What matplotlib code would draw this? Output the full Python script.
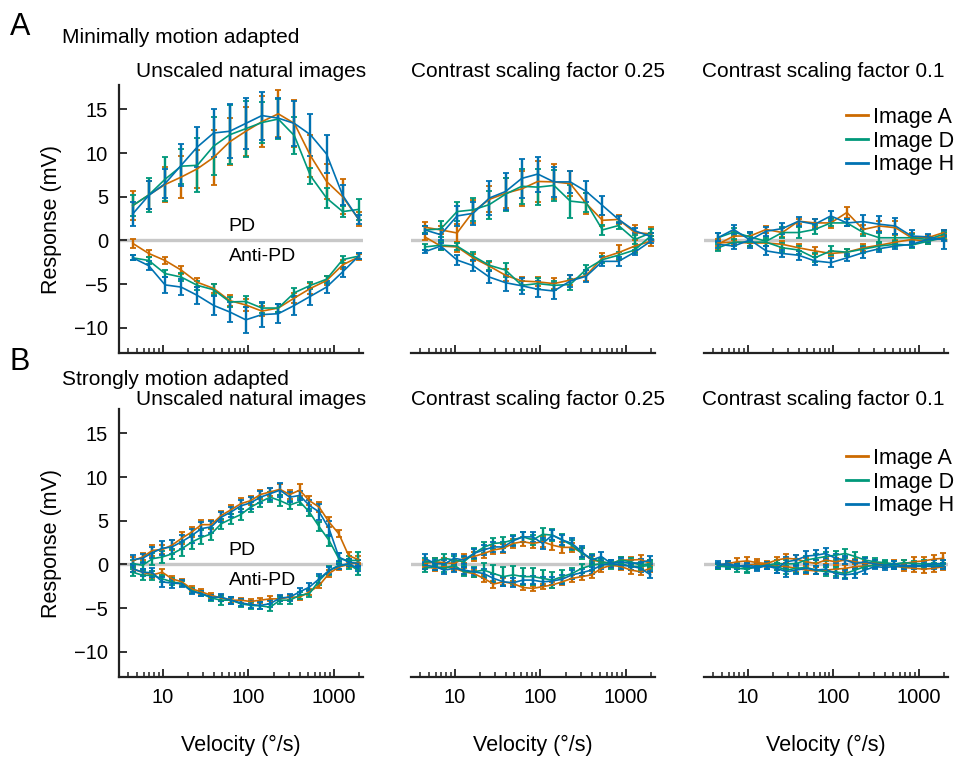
import matplotlib.pyplot as plt
from matplotlib.lines import Line2D
from matplotlib.ticker import FixedLocator, LogLocator, NullFormatter

plt.rcParams['font.family'] = ['Liberation Sans', 'DejaVu Sans']

# velocities (deg/s)
vel_a = [4.5, 6.9, 10.7, 16.5, 25.5, 39.5, 61, 94, 145, 225, 347, 535, 825, 1275, 1960]
vel_b = [4.5, 5.86, 7.63, 9.93, 12.9, 16.8, 21.9, 28.5, 37.2, 48.4, 63, 82, 107, 139,
         181, 236, 307, 400, 520, 678, 882, 1149, 1496, 1948]

images = ['A', 'D', 'H']
colors = {'A': '#cc6a00', 'D': '#00987a', 'H': '#0072b2'}

# ---- A: minimally motion adapted ----
a1_pd = {'A': [4.0, 5.2, 6.4, 7.25, 8.2, 9.5, 11.3, 12.5, 13.6, 14.5, 13.4, 9.7, 6.75, 5.0, 2.4],
         'D': [4.0, 5.2, 7.0, 8.5, 8.6, 10.8, 12.1, 12.8, 13.5, 13.9, 12.0, 7.4, 4.85, 3.3, 3.55],
         'H': [3.05, 5.15, 6.5, 8.6, 10.7, 12.3, 12.5, 13.4, 14.3, 14.0, 13.4, 12.1, 9.9, 5.15, 2.4]}
a1_pd_err = {'A': [1.7, 1.6, 2.0, 2.4, 2.2, 3.2, 2.7, 2.8, 2.9, 2.7, 2.7, 2.4, 2.0, 2.0, 0.8],
             'D': [1.25, 2.0, 2.5, 2.0, 3.1, 3.3, 3.4, 3.2, 2.4, 2.25, 2.1, 0.9, 1.1, 0.6, 1.2],
             'H': [1.4, 1.6, 1.7, 2.4, 2.3, 2.7, 3.1, 2.9, 2.75, 2.3, 2.6, 2.4, 2.2, 1.15, 0.5]}
a1_anti = {'A': [-0.35, -1.5, -2.3, -3.4, -4.8, -5.5, -6.9, -7.4, -8.1, -7.75, -6.6, -5.5, -4.6, -2.8, -1.9],
           'D': [-2.0, -2.3, -3.8, -4.2, -5.15, -5.65, -7.05, -7.0, -7.75, -7.75, -6.0, -5.15, -4.45, -2.2, -1.8],
           'H': [-2.0, -2.9, -5.1, -5.35, -6.3, -7.45, -8.2, -9.1, -8.5, -8.4, -7.45, -6.4, -5.35, -3.6, -1.8]}
a1_anti_err = {'A': [0.5, 0.4, 0.4, 0.5, 0.5, 0.5, 0.6, 0.7, 0.6, 0.5, 0.6, 0.6, 0.5, 0.5, 0.3],
               'D': [0.3, 0.4, 0.4, 0.5, 0.5, 0.6, 0.6, 0.6, 0.6, 0.5, 0.5, 0.4, 0.4, 0.4, 0.3],
               'H': [0.3, 0.5, 0.9, 0.9, 1.0, 1.1, 1.1, 1.5, 1.4, 1.1, 1.1, 1.0, 0.7, 0.6, 0.3]}

a2_pd = {'A': [1.5, 1.2, 0.85, 3.3, 4.7, 5.4, 5.9, 6.75, 6.7, 6.5, 4.2, 2.3, 2.4, 0.9, 0.75],
         'D': [1.2, 1.3, 3.3, 3.5, 4.1, 5.3, 6.2, 6.1, 6.3, 4.5, 4.3, 1.2, 1.7, 0.1, 0.85],
         'H': [1.2, 0.65, 2.8, 3.1, 4.85, 5.6, 7.1, 7.6, 6.7, 6.7, 5.6, 4.0, 2.4, 1.1, 0.45]}
a2_pd_err = {'A': [0.6, 0.5, 1.0, 1.3, 1.5, 1.7, 2.0, 2.3, 2.0, 1.4, 1.2, 0.6, 0.5, 0.9, 0.8],
             'D': [0.4, 0.9, 1.1, 1.3, 1.6, 1.9, 2.0, 2.1, 1.8, 1.9, 1.1, 0.6, 0.4, 0.5, 0.4],
             'H': [0.5, 0.6, 1.1, 1.3, 1.9, 2.1, 2.2, 2.0, 1.7, 1.3, 1.2, 1.1, 0.4, 0.3, 0.4]}
a2_anti = {'A': [0.4, -0.65, -0.75, -2.0, -2.95, -4.0, -4.65, -4.75, -4.95, -4.55, -4.0, -2.0, -1.4, -0.65, -0.1],
           'D': [-0.75, -0.55, -0.65, -1.8, -2.85, -3.4, -5.15, -4.95, -5.15, -5.05, -3.3, -2.2, -1.7, -1.1, 0.5],
           'H': [-1.3, -0.65, -2.25, -2.9, -4.2, -4.85, -5.2, -5.6, -5.8, -4.65, -4.1, -2.4, -2.4, -1.35, -0.1]}
a2_anti_err = {'A': [0.3, 0.5, 0.6, 0.4, 0.5, 0.7, 0.5, 0.5, 0.6, 0.6, 0.6, 0.5, 0.9, 0.7, 0.6],
               'D': [0.3, 0.5, 0.4, 0.5, 0.5, 0.8, 0.5, 0.6, 0.5, 0.6, 0.5, 0.4, 0.4, 0.3, 0.3],
               'H': [0.2, 0.3, 0.6, 0.6, 0.7, 0.9, 0.9, 0.9, 0.9, 0.7, 0.7, 0.5, 0.5, 0.3, 0.2]}

a3_pd = {'A': [-0.45, 0.5, 0.5, 1.25, 0.9, 2.2, 2.0, 2.0, 3.2, 1.25, 1.65, 1.45, 0.3, 0.3, 0.9],
         'D': [0.3, 0.95, 0.4, -0.1, 0.9, 0.9, 1.25, 2.0, 2.0, 0.9, 0.3, 0.3, 0.3, 0.1, 0.7],
         'H': [0.3, 1.25, 0.05, 1.05, 1.35, 2.2, 1.85, 2.8, 2.0, 2.15, 1.85, 1.65, 0.5, 0.4, 0.1]}
a3_pd_err = {'A': [0.6, 0.5, 0.5, 0.4, 0.5, 0.3, 0.5, 0.6, 0.6, 0.5, 0.6, 0.8, 0.5, 0.3, 0.3],
             'D': [0.5, 0.5, 0.5, 0.5, 0.6, 0.6, 0.5, 0.4, 0.4, 0.4, 0.5, 0.4, 0.4, 0.3, 0.3],
             'H': [0.5, 0.5, 0.9, 0.5, 0.6, 0.5, 0.6, 0.6, 0.4, 0.8, 0.9, 0.9, 0.7, 0.3, 1.1]}
a3_anti = {'A': [-0.3, -0.2, -0.3, -0.3, -0.45, -0.85, -1.2, -1.5, -1.35, -0.85, -0.55, -0.2, 0.1, -0.1, 0.5],
           'D': [-0.85, -0.2, -0.2, -0.2, -0.85, -1.1, -2.0, -1.2, -1.35, -1.0, -0.65, -0.45, -0.55, -0.1, 0.3],
           'H': [-0.45, -0.65, 0.05, -1.2, -1.5, -1.7, -2.35, -2.55, -2.0, -1.4, -0.95, -0.65, -0.45, 0.1, 0.2]}
a3_anti_err = {'A': [0.4, 0.3, 0.3, 0.3, 0.4, 0.4, 0.4, 0.3, 0.4, 0.4, 0.4, 0.3, 0.3, 0.3, 0.3],
               'D': [0.4, 0.4, 0.4, 0.4, 0.5, 0.5, 0.5, 0.5, 0.4, 0.4, 0.4, 0.3, 0.3, 0.3, 0.3],
               'H': [0.4, 0.3, 0.4, 0.5, 0.4, 0.5, 0.5, 0.5, 0.4, 0.6, 0.4, 0.3, 0.3, 0.3, 0.3]}

# ---- B: strongly motion adapted ----
b1_pd = {'A': [0.4, 0.85, 1.6, 1.7, 2.2, 3.0, 3.7, 4.55, 4.55, 5.6, 6.25, 6.95, 7.3, 8.0, 8.3, 8.6,
               8.0, 8.5, 7.3, 6.55, 4.85, 3.5, 1.0, 0.55],
         'D': [0.1, -0.1, 0.65, 0.85, 1.2, 1.8, 2.55, 3.1, 3.5, 4.65, 5.2, 5.7, 6.55, 7.15, 7.7, 7.3,
               6.8, 7.2, 6.0, 4.3, 2.75, 0.65, 0.45, 0.45],
         'H': [0.55, 0.7, 1.35, 1.85, 2.0, 2.6, 3.3, 4.1, 4.3, 5.4, 6.0, 6.7, 7.05, 7.7, 8.1, 8.5,
               7.7, 7.9, 6.75, 6.0, 4.1, 0.85, 0.25, 0.1]}
b1_pd_err = {'A': [0.4, 0.4, 0.6, 0.5, 0.6, 0.7, 0.6, 0.5, 0.5, 0.5, 0.5, 0.6, 0.5, 0.5, 0.5, 0.6,
                   0.5, 0.7, 0.5, 0.6, 0.6, 0.4, 0.4, 0.4],
             'D': [0.4, 0.4, 0.7, 0.7, 0.6, 0.8, 0.8, 0.8, 0.7, 0.6, 0.6, 0.6, 0.6, 0.6, 0.6, 0.6,
                   0.5, 0.4, 0.4, 0.5, 0.6, 0.6, 0.5, 1.0],
             'H': [0.5, 0.5, 0.6, 0.8, 0.8, 0.8, 0.8, 0.8, 0.7, 0.6, 0.6, 0.7, 0.7, 0.7, 0.7, 0.8,
                   0.6, 0.5, 0.6, 0.9, 0.9, 0.5, 0.4, 0.4]}
b1_anti = {'A': [-0.55, -0.9, -1.2, -0.9, -1.65, -2.0, -2.8, -3.15, -3.55, -3.85, -4.1, -4.1, -4.25,
                 -4.1, -3.95, -3.95, -3.75, -3.75, -3.15, -2.4, -1.05, -0.3, 0.0, 0.25],
           'D': [-0.9, -1.25, -1.25, -1.65, -2.0, -2.2, -3.0, -3.35, -3.85, -4.1, -4.1, -4.5, -4.7,
                 -4.75, -4.9, -4.1, -4.1, -3.55, -3.35, -1.85, -0.7, -0.1, 0.0, -0.7],
           'H': [-0.5, -0.9, -0.95, -2.0, -2.15, -2.2, -3.1, -3.35, -3.75, -3.75, -4.1, -4.4, -4.6,
                 -4.7, -4.5, -3.85, -3.75, -3.15, -2.6, -1.65, -0.7, -0.2, 0.1, -0.5]}
b1_anti_err = {'A': [0.3, 0.3, 0.4, 0.4, 0.3, 0.3, 0.3, 0.3, 0.3, 0.3, 0.3, 0.3, 0.3, 0.3, 0.3, 0.3,
                     0.3, 0.3, 0.3, 0.3, 0.4, 0.4, 0.3, 0.3],
               'D': [0.4, 0.5, 0.5, 0.4, 0.4, 0.3, 0.3, 0.3, 0.4, 0.5, 0.4, 0.4, 0.4, 0.4, 0.4, 0.4,
                     0.4, 0.4, 0.4, 0.5, 0.5, 0.4, 0.5, 0.5],
               'H': [0.4, 0.4, 0.5, 0.6, 0.5, 0.4, 0.3, 0.3, 0.3, 0.4, 0.4, 0.4, 0.4, 0.4, 0.4, 0.3,
                     0.4, 0.4, 0.5, 0.5, 0.4, 0.3, 0.3, 0.3]}

b2_pd = {'A': [0.1, 0.3, 0.2, 0.1, 0.7, 0.9, 1.25, 1.65, 1.85, 2.4, 2.6, 2.4, 2.6, 2.2, 1.95, 1.95,
               1.35, 0.5, 0.3, 0.1, 0.5, 0.5, 0.55, 0.1],
         'D': [0.3, 0.3, 0.7, 0.5, 0.3, 1.25, 1.95, 2.4, 2.5, 2.8, 3.15, 2.8, 3.45, 3.35, 2.8, 2.2,
               1.25, 0.7, 0.3, 0.1, 0.5, 0.3, -0.1, 0.1],
         'H': [0.7, 0.1, 0.05, 0.7, 0.5, 1.25, 1.65, 2.0, 2.0, 2.7, 3.15, 3.15, 2.4, 3.35, 2.8, 2.4,
               1.45, 0.5, 0.9, 0.1, 0.3, 0.1, 0.2, 0.5]}
b2_pd_err = {'A': [0.4, 0.4, 0.5, 0.4, 0.5, 0.5, 0.5, 0.5, 0.5, 0.5, 0.5, 0.5, 0.6, 0.6, 0.6, 0.5,
                   0.5, 0.5, 0.4, 0.4, 0.4, 0.4, 0.5, 0.4],
             'D': [0.4, 0.4, 0.5, 0.5, 0.5, 0.6, 0.6, 0.6, 0.6, 0.6, 0.6, 0.6, 0.7, 0.7, 0.7, 0.6,
                   0.6, 0.5, 0.4, 0.4, 0.4, 0.4, 0.4, 0.4],
             'H': [0.5, 0.4, 0.4, 0.5, 0.5, 0.5, 0.6, 0.6, 0.6, 0.6, 0.6, 0.6, 0.6, 0.6, 0.6, 0.6,
                   0.6, 0.6, 0.5, 0.4, 0.4, 0.4, 0.4, 0.5]}
b2_anti = {'A': [-0.25, -0.45, -0.25, -0.45, -0.85, -1.05, -1.6, -2.25, -2.0, -2.2, -2.65, -2.75, -2.55,
                 -2.35, -2.0, -1.6, -1.4, -1.2, -0.45, -0.1, -0.25, -0.65, -0.85, -0.45],
           'D': [-0.45, -0.25, -0.45, -0.1, -0.85, -0.85, -0.65, -1.05, -1.4, -1.2, -1.4, -1.4, -1.6,
                 -1.8, -1.4, -1.05, -0.45, -0.1, 0.1, -0.1, 0.1, -0.25, -0.25, -0.1],
           'H': [-0.1, -0.25, -0.65, -0.45, -0.65, -0.85, -1.05, -1.6, -2.0, -2.1, -1.8, -1.8, -2.0,
                 -1.9, -1.7, -1.2, -0.95, -0.65, -0.1, 0.1, -0.1, -0.2, -0.45, -1.2]}
b2_anti_err = {'A': [0.3, 0.3, 0.3, 0.3, 0.4, 0.4, 0.4, 0.4, 0.4, 0.3, 0.3, 0.3, 0.3, 0.3, 0.4, 0.4,
                     0.4, 0.4, 0.4, 0.3, 0.4, 0.4, 0.4, 0.4],
               'D': [0.4, 0.4, 0.4, 0.4, 0.5, 0.6, 0.8, 1.0, 1.1, 1.0, 1.0, 1.0, 0.9, 0.9, 0.7, 0.6,
                     0.5, 0.5, 0.4, 0.4, 0.4, 0.4, 0.4, 0.4],
               'H': [0.4, 0.4, 0.4, 0.4, 0.4, 0.4, 0.5, 0.5, 0.5, 0.5, 0.5, 0.5, 0.5, 0.5, 0.5, 0.5,
                     0.4, 0.4, 0.4, 0.4, 0.4, 0.4, 0.4, 0.4]}

b3_pd = {'A': [-0.1, 0.1, 0.3, 0.4, 0.2, 0.1, 0.5, 0.7, 0.6, 0.3, 0.1, 0.5, 0.3, 0.5, 0.3, 0.1,
               0.2, 0.05, 0.05, 0.1, 0.3, 0.4, 0.6, 0.7],
         'D': [-0.2, -0.25, -0.1, -0.45, -0.25, -0.1, 0.1, 0.05, 0.1, 0.5, 0.7, 0.9, 1.05, 1.25, 0.9, 0.5,
               0.3, 0.2, 0.05, 0.2, 0.1, 0.05, 0.1, 0.05],
         'H': [-0.1, 0.1, -0.2, -0.25, -0.45, -0.1, -0.45, 0.3, 0.5, 0.95, 1.05, 1.25, 0.7, 0.5, 0.1, 0.3,
               0.05, -0.1, 0.05, -0.2, -0.25, -0.1, 0.05, 0.1]}
b3_pd_err = {'A': [0.3, 0.3, 0.4, 0.5, 0.4, 0.3, 0.4, 0.5, 0.5, 0.4, 0.4, 0.4, 0.4, 0.4, 0.3, 0.3,
                   0.3, 0.3, 0.4, 0.4, 0.5, 0.5, 0.5, 0.6],
             'D': [0.3, 0.3, 0.3, 0.4, 0.4, 0.4, 0.4, 0.5, 0.5, 0.5, 0.5, 0.5, 0.5, 0.5, 0.5, 0.4,
                   0.4, 0.3, 0.3, 0.3, 0.3, 0.4, 0.4, 0.4],
             'H': [0.3, 0.3, 0.3, 0.3, 0.3, 0.4, 0.5, 0.6, 0.6, 0.6, 0.6, 0.6, 0.5, 0.5, 0.4, 0.4,
                   0.4, 0.3, 0.3, 0.3, 0.3, 0.4, 0.4, 0.4]}
b3_anti = {'A': [-0.2, -0.1, -0.25, -0.1, 0.05, -0.1, -0.2, -0.25, -0.45, -0.65, -0.75, -0.65, -0.55,
                 -0.45, -0.25, -0.2, -0.1, -0.1, -0.2, -0.35, -0.45, -0.55, -0.45, -0.25],
           'D': [-0.2, -0.25, -0.45, -0.55, -0.25, -0.2, -0.25, -0.65, -0.45, -0.35, -0.65, -0.85, -0.85,
                 -1.05, -0.65, -0.25, -0.1, 0.05, -0.2, -0.25, -0.2, -0.25, -0.1, -0.1],
           'H': [0.05, -0.1, -0.2, -0.1, -0.25, -0.2, -0.45, -0.85, -0.65, -0.45, -0.65, -0.55, -1.05,
                 -1.2, -1.05, -0.65, -0.25, -0.35, -0.25, -0.2, -0.1, -0.2, -0.25, -0.2]}
b3_anti_err = {'A': [0.3, 0.3, 0.3, 0.3, 0.3, 0.3, 0.4, 0.4, 0.4, 0.4, 0.4, 0.4, 0.4, 0.4, 0.3, 0.3,
                     0.3, 0.3, 0.3, 0.4, 0.4, 0.4, 0.4, 0.4],
               'D': [0.3, 0.3, 0.4, 0.4, 0.3, 0.3, 0.4, 0.5, 0.5, 0.5, 0.5, 0.5, 0.5, 0.5, 0.4, 0.3,
                     0.3, 0.3, 0.3, 0.3, 0.3, 0.3, 0.3, 0.3],
               'H': [0.3, 0.3, 0.3, 0.3, 0.3, 0.3, 0.5, 0.6, 0.5, 0.5, 0.5, 0.5, 0.5, 0.5, 0.5, 0.4,
                     0.3, 0.3, 0.3, 0.3, 0.3, 0.3, 0.3, 0.3]}

row_titles = ['Minimally motion adapted', 'Strongly motion adapted']
col_titles = ['Unscaled natural images', 'Contrast scaling factor 0.25', 'Contrast scaling factor 0.1']

panels = [[(a1_pd, a1_pd_err, a1_anti, a1_anti_err),
           (a2_pd, a2_pd_err, a2_anti, a2_anti_err),
           (a3_pd, a3_pd_err, a3_anti, a3_anti_err)],
          [(b1_pd, b1_pd_err, b1_anti, b1_anti_err),
           (b2_pd, b2_pd_err, b2_anti, b2_anti_err),
           (b3_pd, b3_pd_err, b3_anti, b3_anti_err)]]
velocities = [vel_a, vel_b]

W, H = 957, 757
fig = plt.figure(figsize=(W / 100, H / 100), dpi=100)

col_left = [119, 411, 704]
col_w = 244
row_top = [85, 409]
row_h = 268
title_pad = [6, 2.5]
title_x = [0.54, 0.52, 0.49]
legend_top = [107, 448]
axcol = '#222222'

for r in range(2):
    for c in range(3):
        ax = fig.add_axes([col_left[c] / W, 1 - (row_top[r] + row_h) / H, col_w / W, row_h / H])
        ax.axhline(0, color='#c8c8c8', lw=2.4, zorder=0)
        vel = velocities[r]
        pd_, pd_err, anti, anti_err = panels[r][c]
        for img in images:
            for vals, errs in ((pd_, pd_err), (anti, anti_err)):
                ax.errorbar(vel, vals[img], yerr=errs[img], color=colors[img], lw=1.2,
                            elinewidth=1.7, capsize=2, capthick=1.3)
        ax.set_xscale('log')
        ax.set_xlim(3.1, 2200)
        ax.set_ylim(-12.9, 17.8)
        ax.xaxis.set_major_locator(FixedLocator([10, 100, 1000]))
        ax.xaxis.set_minor_locator(LogLocator(base=10, subs=range(2, 10)))
        ax.xaxis.set_minor_formatter(NullFormatter())
        ax.set_xticklabels(['10', '100', '1000'] if r == 1 else [])
        ax.tick_params(axis='both', which='major', direction='in', length=6, width=1.3,
                       color=axcol, labelsize=14.5, pad=8)
        ax.tick_params(axis='x', which='minor', direction='in', length=3.5, width=1.1, color=axcol)
        for s in ['top', 'right']:
            ax.spines[s].set_visible(False)
        ax.spines['bottom'].set_linewidth(1.6)
        ax.spines['bottom'].set_color(axcol)
        if c == 0:
            ax.spines['left'].set_linewidth(1.6)
            ax.spines['left'].set_color(axcol)
            ax.set_yticks([-10, -5, 0, 5, 10, 15])
            ax.set_ylabel('Response (mV)', fontsize=15.5)
            ax.yaxis.set_label_coords(-0.235, 0.5)
            ax.text(59, 1.6, 'PD', fontsize=14, ha='left', va='center')
            ax.text(59, -1.9, 'Anti-PD', fontsize=14, ha='left', va='center')
        else:
            ax.spines['left'].set_visible(False)
            ax.set_yticks([])
        if r == 1:
            ax.set_xlabel('Velocity (°/s)', fontsize=15.5)
            ax.xaxis.set_label_coords(0.5, -0.215)
        ax.set_title(col_titles[c], fontsize=15, pad=title_pad[r], x=title_x[c])
        if c == 2:
            handles = [Line2D([], [], color=colors[img], lw=2) for img in images]
            ax.legend(handles, ['Image ' + img for img in images], loc='upper left',
                      bbox_to_anchor=(846 / W, 1 - legend_top[r] / H),
                      bbox_transform=fig.transFigure, frameon=False, fontsize=15.5,
                      handlelength=1.0, handletextpad=0.25, labelspacing=0.12, borderpad=0,
                      borderaxespad=0)

    fig.text(62 / W, 1 - [43, 385][r] / H, row_titles[r], fontsize=15, va='baseline')
    fig.text(10 / W, 1 - [35, 370][r] / H, 'AB'[r], fontsize=22, va='baseline')

fig.savefig('out.png', dpi=100)
